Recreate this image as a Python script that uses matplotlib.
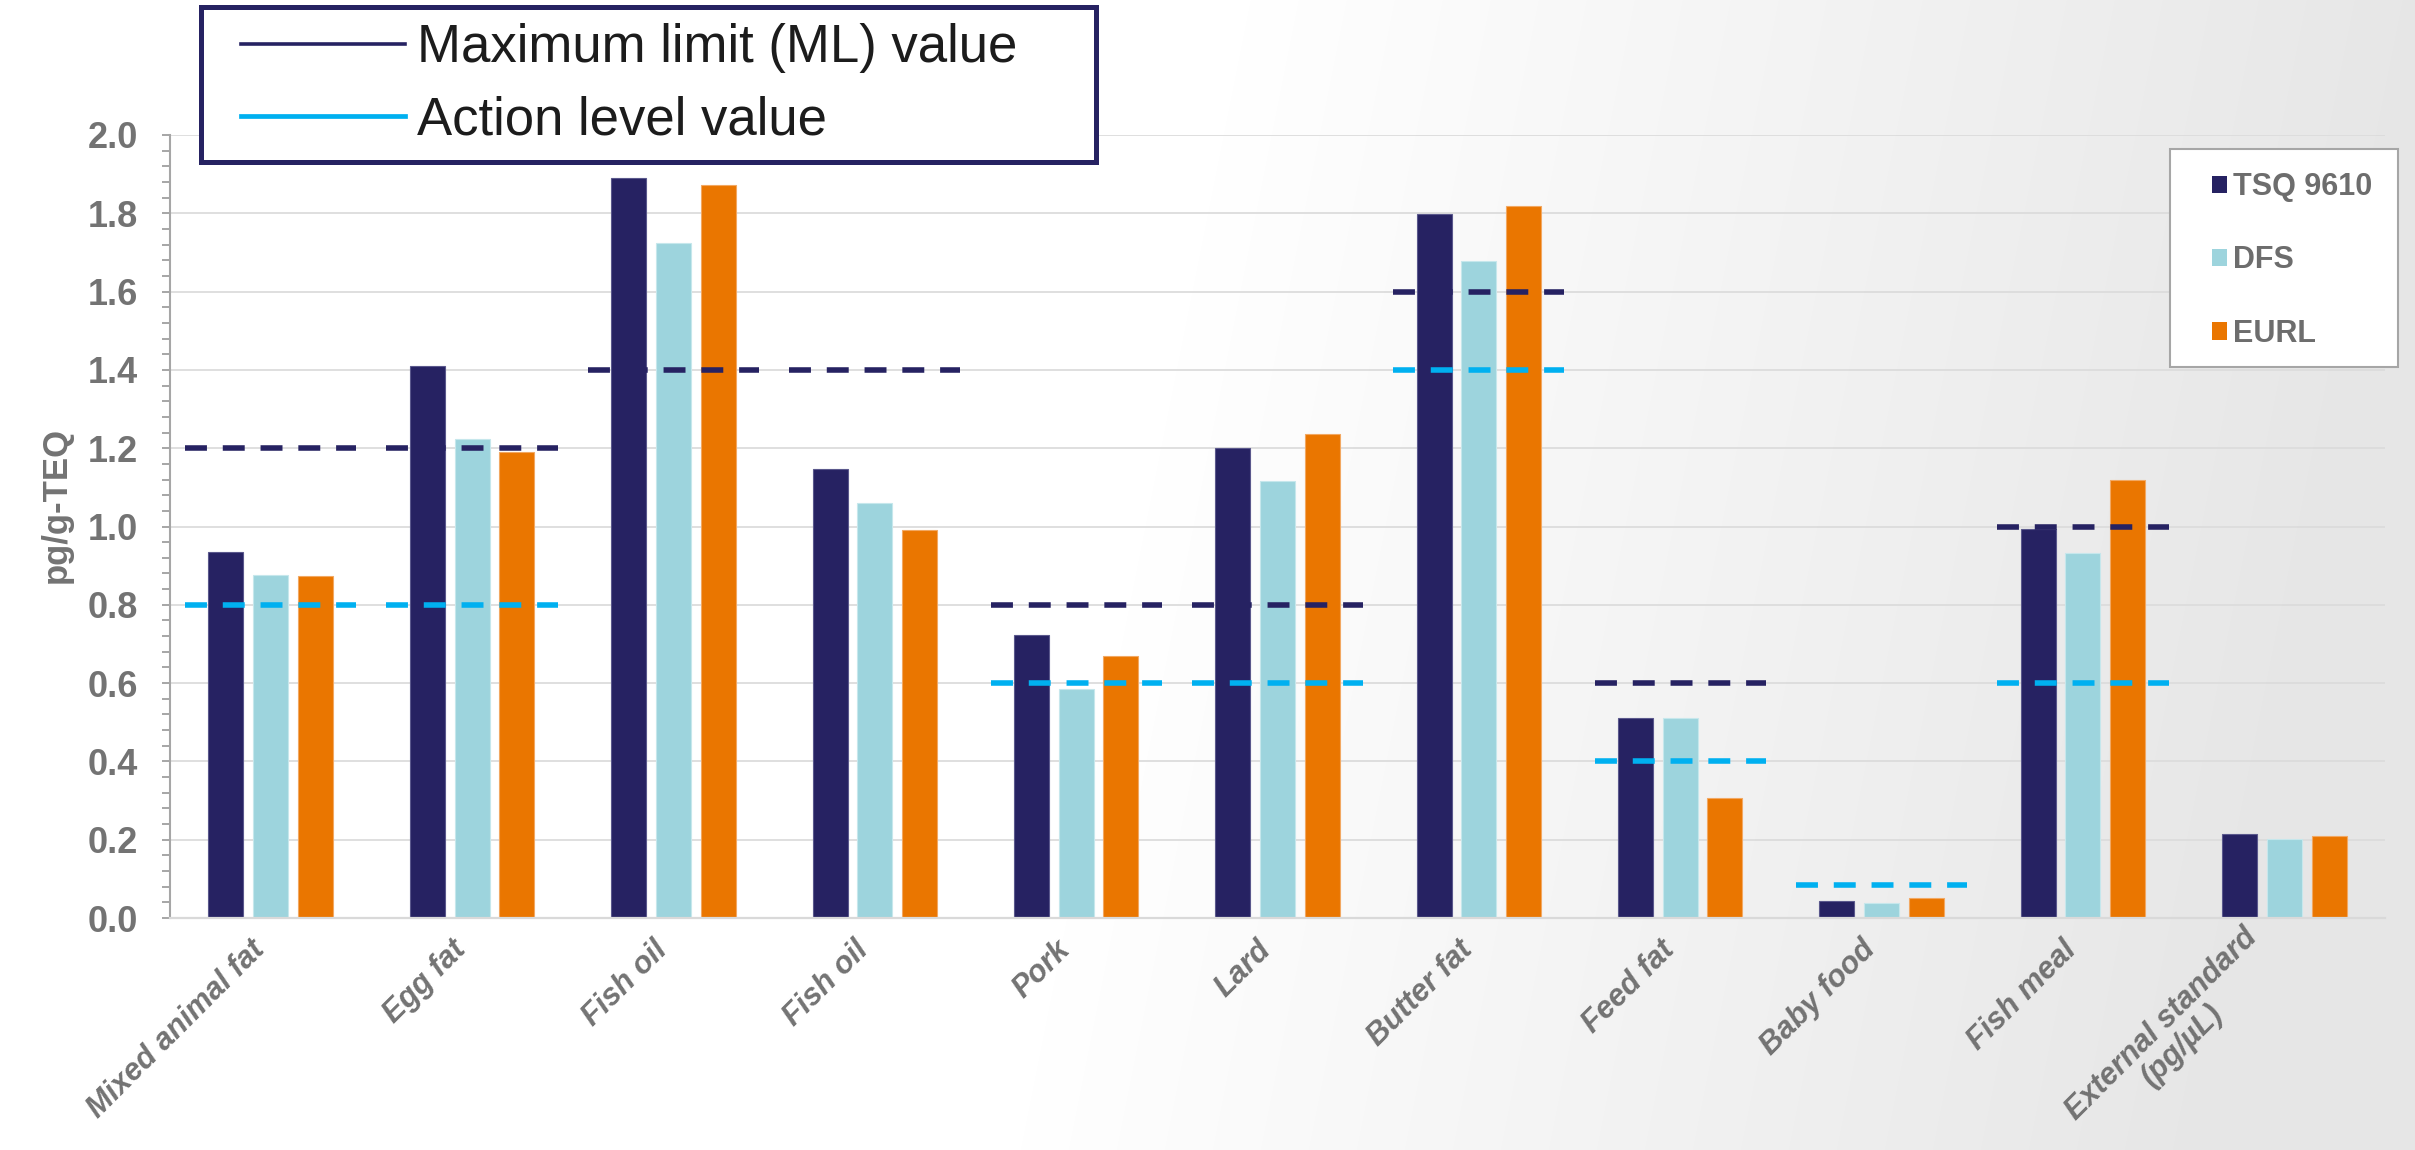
import numpy as np
import matplotlib
matplotlib.use("Agg")
import matplotlib.pyplot as plt
from matplotlib.patches import Rectangle, Patch
from matplotlib.lines import Line2D
from matplotlib.ticker import MultipleLocator

plt.rcParams['font.family'] = ['Liberation Sans', 'DejaVu Sans']

# ---- data -------------------------------------------------------------
categories = ["Mixed animal fat", "Egg fat", "Fish oil", "Fish oil", "Pork", "Lard",
              "Butter fat", "Feed fat", "Baby food", "Fish meal",
              "External standard\n(pg/\u00b5L)"]
series_names = ["TSQ 9610", "DFS", "EURL"]
tsq9610 = [0.936, 1.409, 1.889, 1.146, 0.722, 1.200, 1.797, 0.510, 0.044, 0.993, 0.215]
dfs     = [0.877, 1.224, 1.724, 1.061, 0.584, 1.117, 1.679, 0.511, 0.038, 0.932, 0.202]
eurl    = [0.874, 1.191, 1.873, 0.992, 0.669, 1.236, 1.818, 0.306, 0.050, 1.120, 0.209]
line_names   = ["Maximum limit (ML) value", "Action level value"]
max_limit    = [1.2, 1.2, 1.4, 1.4, 0.8, 0.8, 1.6, 0.6, None, 1.0, None]
action_level = [0.8, 0.8, None, None, 0.6, 0.6, 1.4, 0.4, 0.085, 0.6, None]
y_ticks = [0.0, 0.2, 0.4, 0.6, 0.8, 1.0, 1.2, 1.4, 1.6, 1.8, 2.0]

# ---- style ------------------------------------------------------------
bar_colors = ["#262262", "#9dd4dd", "#ea7600"]
bar_edges = ["#5a588c", "#c6e7ec", "#f2a862"]
ml_color = "#262262"
al_color = "#00b0f0"
grey_text = "#737373"

W, H = 2415, 1150
fig = plt.figure(figsize=(W / 100, H / 100), dpi=100)
fig.patch.set_facecolor("white")

# soft light-grey backdrop that darkens towards the right
xx, yy = np.meshgrid(np.arange(W), np.arange(H))
t = np.clip((xx + 0.2 * yy - 1250) / 1200.0, 0, 1)
shade = 1.0 - (25 / 255.0) * t
bg = np.dstack([shade, shade, shade])
fig.figimage(bg, xo=0, yo=0, origin="upper", zorder=-10)

ax = fig.add_axes([170 / W, 232 / H, 2215 / W, 783 / H])
ax.set_facecolor("none")

x = np.arange(len(categories))
bar_w = 0.174
step = 0.222
for i, (vals, name) in enumerate(zip([tsq9610, dfs, eurl], series_names)):
    ax.bar(x + (i - 1) * step, vals, width=bar_w, color=bar_colors[i],
           edgecolor=bar_edges[i], linewidth=0.8, label=name, zorder=2)

# limit lines spanning each category group
half = 0.425
dash = (0, (3.95, 2.85))
for vals, col in [(max_limit, ml_color), (action_level, al_color)]:
    idx = [k for k, v in enumerate(vals) if v is not None]
    yv = [vals[k] for k in idx]
    xc = x[idx]
    ax.hlines(yv, xc - half, xc + half, colors=col, linewidth=4.0,
              linestyles=[dash], zorder=4)

ax.set_xlim(-0.5, len(categories) - 0.5)
ax.set_ylim(0, 2.0)
ax.set_yticks(y_ticks)
ax.set_yticklabels([f"{v:.1f}" for v in y_ticks])
ax.yaxis.set_minor_locator(MultipleLocator(0.04))
ax.tick_params(axis="y", which="both", length=6, width=1.4, color="#a6a6a6",
               direction="out", pad=17)
ax.tick_params(axis="y", which="major", labelsize=26, labelcolor=grey_text)
for lab in ax.get_yticklabels():
    lab.set_fontweight("bold")

ax.set_xticks(x)
ax.set_xticklabels(categories, rotation=45, ha="right", fontsize=22,
                   fontweight="bold", fontstyle="italic", color=grey_text)
ax.tick_params(axis="x", length=0, pad=12)
xlabels = ax.get_xticklabels()
for lab in xlabels:
    lab.set_multialignment("center")
# the two-line label sits a little higher so it stays inside the figure
xlabels[-1].set_linespacing(1.0)
xlabels[-1].set_y(12 / 783)

ax.grid(axis="y", which="major", color="#dcdcdc", linewidth=1.3)
ax.set_axisbelow(True)
for s in ["top", "right"]:
    ax.spines[s].set_visible(False)
ax.spines["left"].set_color("#a6a6a6")
ax.spines["left"].set_linewidth(1.5)
ax.spines["bottom"].set_color("#d9d9d9")
ax.spines["bottom"].set_linewidth(1.6)

ax.set_ylabel("pg/g-TEQ", fontsize=25, fontweight="bold", color=grey_text)
ax.yaxis.set_label_coords(-0.044, 0.527)

# ---- legend for the limit lines (top left) ---------------------------
frame1 = Rectangle((201 / W, 1 - 162 / H), 895 / W, 155 / H, transform=fig.transFigure,
                   facecolor="white", edgecolor="#262262", linewidth=3.6, zorder=5)
fig.patches.append(frame1)
line_handles = [Line2D([], [], color=ml_color, linewidth=2.6),
                Line2D([], [], color=al_color, linewidth=3.4)]
leg1 = fig.legend(line_handles, line_names, loc="upper left",
                  bbox_to_anchor=(241 / W, 1 - 23 / H), frameon=False,
                  prop={"family": "Liberation Sans", "size": 38},
                  labelcolor="#1c1c1c", handlelength=3.1, handletextpad=0.23,
                  labelspacing=0.42, borderpad=0, borderaxespad=0)
leg1.set_zorder(6)

# ---- legend for the instruments (right) -------------------------------
frame2 = Rectangle((2170 / W, 1 - 367 / H), 228 / W, 218 / H, transform=fig.transFigure,
                   facecolor="white", edgecolor="#a6a6a6", linewidth=1.5, zorder=5)
fig.patches.append(frame2)
bar_handles = [Patch(facecolor=c, edgecolor="none") for c in bar_colors]
leg2 = fig.legend(bar_handles, series_names, loc="upper left",
                  bbox_to_anchor=(2212 / W, 1 - 172 / H), frameon=False,
                  prop={"family": "Liberation Sans", "size": 22, "weight": "bold"},
                  labelcolor="#6d6d6d", handlelength=0.49, handleheight=0.49,
                  handletextpad=0.2, labelspacing=1.42, borderpad=0, borderaxespad=0)
leg2.set_zorder(6)

fig.savefig("out.png", dpi=100)
